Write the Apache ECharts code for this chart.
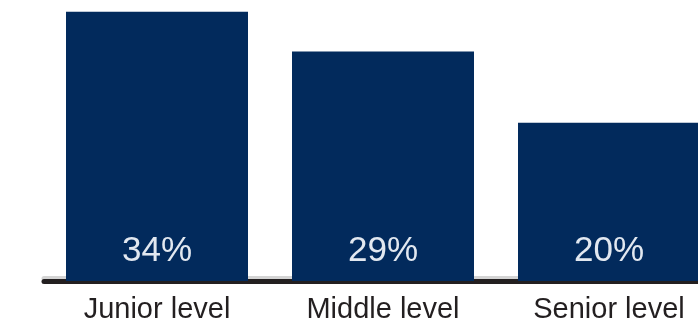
<!DOCTYPE html>
<html>
<head>
<meta charset="utf-8">
<script src="https://cdn.jsdelivr.net/npm/echarts@6/dist/echarts.min.js"></script>
<style>
  html, body { margin: 0; padding: 0; background: #ffffff; }
  #chart { width: 698px; height: 329px; }
</style>
</head>
<body>
<div id="chart"></div>
<script>
// Share by career level
const categories = ['Junior level', 'Middle level', 'Senior level'];
const shares = [34, 29, 20];

const NAVY = '#022a5c';
const INK = '#231f20';
const FONT = '"Liberation Sans", Arial, sans-serif';

const chart = echarts.init(document.getElementById('chart'), null, { renderer: 'canvas' });

chart.setOption({
  animation: false,
  backgroundColor: '#ffffff',
  // the plot runs past the right edge, so the last bar is cut off there
  grid: {
    left: 44, top: 0, bottom: 48, width: 678,
    containLabel: false,
    outerBoundsMode: 'none'
  },
  xAxis: {
    type: 'category',
    data: categories,
    offset: 3,
    axisTick: { show: false },
    axisLine: {
      show: true,
      lineStyle: {
        color: INK,
        width: 5,
        shadowColor: '#d4d4d4',
        shadowBlur: 0,
        shadowOffsetY: -3
      }
    },
    axisLabel: {
      interval: 0,
      color: INK,
      fontFamily: FONT,
      fontSize: 29,
      margin: 11
    }
  },
  yAxis: {
    type: 'value',
    min: 0,
    max: 35.5,
    show: false,
    splitLine: { show: false }
  },
  series: [{
    type: 'bar',
    data: shares,
    barWidth: 182,
    itemStyle: { color: NAVY },
    label: {
      show: true,
      position: 'insideBottom',
      distance: 12,
      color: '#e2e8f0',
      fontFamily: FONT,
      fontSize: 35,
      formatter: p => p.value + '%'
    }
  }]
});
</script>
</body>
</html>
